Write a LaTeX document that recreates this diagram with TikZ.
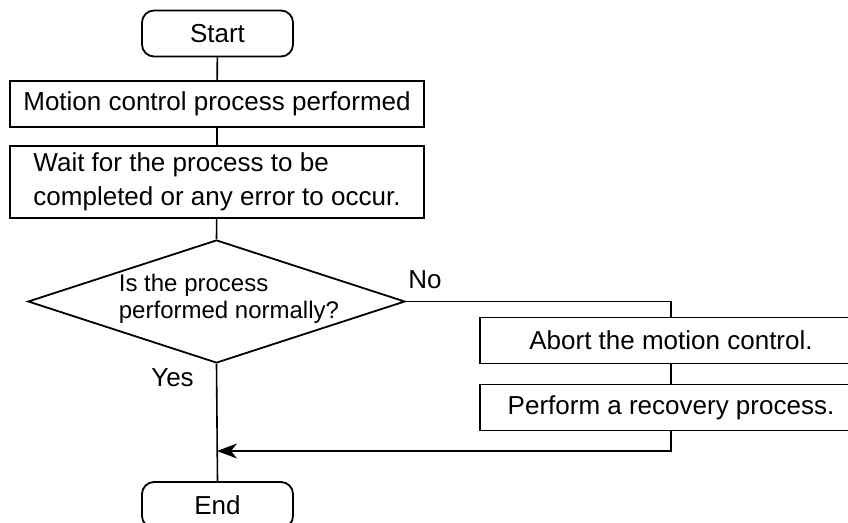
\documentclass[tikz,border=0pt]{standalone}
\usepackage{fontspec}
\setmainfont{Liberation Sans}
\usetikzlibrary{shapes.geometric,arrows.meta}
\begin{document}
\begin{tikzpicture}[x=1pt,y=-1pt,
  line width=1.8pt,
  every node/.style={font=\fontsize{26}{32}\selectfont},
  terminal/.style={draw,rounded corners=12pt,minimum width=151pt,minimum height=46pt,inner sep=0pt},
  procbox/.style={draw,minimum height=46pt,inner sep=0pt},
  decision/.style={draw,diamond,minimum width=377pt,minimum height=123pt,inner sep=0pt},
  flowline/.style={line width=1.6pt},
  arrowline/.style={flowline,-{Stealth[length=20pt,width=15pt,inset=6pt]}},
  lbl/.style={inner sep=0pt}]
\useasboundingbox (0,0) rectangle (848,522);
\clip (0,0) rectangle (848,522);

% main column
\node[terminal] (start) at (217.5,33.5) {Start};
\node[procbox,minimum width=414pt] (motion) at (217,104) {Motion control process performed};
\node[procbox,minimum width=414pt,minimum height=72pt,align=left,
      font=\fontsize{26}{34}\selectfont] (wait) at (217,182)
  {Wait for the process to be\\completed or any error to occur.};
\node[decision] (check) at (216.5,301.5) {};
\node[lbl,anchor=west,align=left,font=\fontsize{24}{27}\selectfont] (question) at (118,298.5)
  {Is the process\\performed normally?};
\node[terminal] (stop) at (217.5,505) {End};

% error branch
\node[procbox,minimum width=382pt] (abort) at (671,340.5) {Abort the motion control.};
\node[procbox,minimum width=382pt] (recover) at (671,407.5) {Perform a recovery process.};

% branch labels
\node[lbl] (yes) at (172.5,378) {Yes};
\node[lbl] (no) at (425,280) {No};

\coordinate (join) at (217,451);

% connectors
\draw[flowline] (start) -- (motion);
\draw[flowline] (motion) -- (wait);
\draw[flowline] (wait) -- (check.north);
\draw[flowline] (check.south) -- (stop.north);
\draw[flowline] (check.east) -| (abort.north);
\draw[flowline] (abort) -- (recover);
\draw[arrowline] (recover.south) |- (join);
\end{tikzpicture}
\end{document}
